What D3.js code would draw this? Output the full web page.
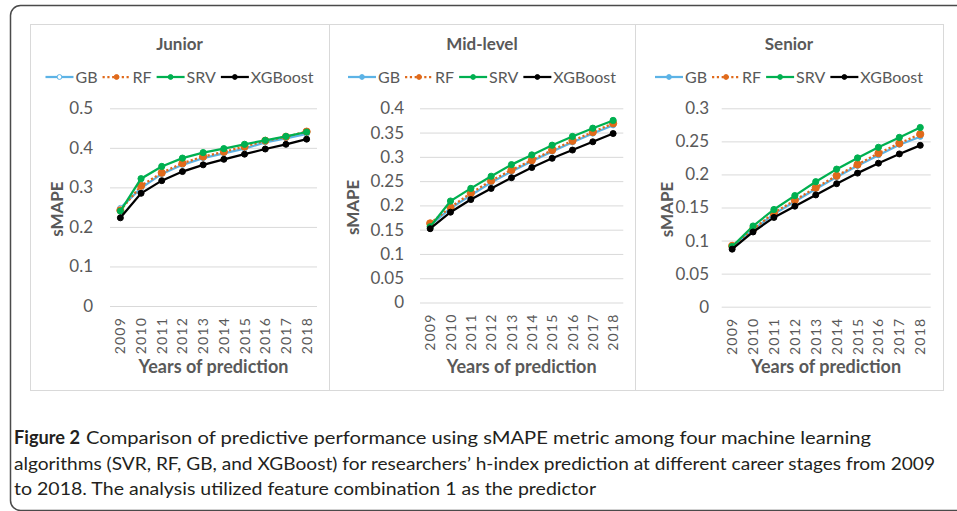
<!DOCTYPE html>
<html>
<head>
<meta charset="utf-8">
<script src="https://cdn.jsdelivr.net/npm/d3@7"></script>
<style>
  body { margin: 0; background: #fff; }
  text { font-family: Lato, "Noto Sans", sans-serif; }
</style>
</head>
<body>
<div id="chart"></div>
<script>
// sMAPE by career stage, 2009-2018

var years = ["2009", "2010", "2011", "2012", "2013", "2014", "2015", "2016", "2017", "2018"];
var seriesNames = ["GB", "RF", "SRV", "XGBoost"];
var panelTitles = ["Junior", "Mid-level", "Senior"];

var juniorGB  = [0.248, 0.298, 0.334, 0.357, 0.374, 0.386, 0.398, 0.414, 0.424, 0.435];
var juniorRF  = [0.242, 0.304, 0.337, 0.361, 0.378, 0.390, 0.403, 0.418, 0.428, 0.441];
var juniorSRV = [0.240, 0.322, 0.353, 0.374, 0.388, 0.398, 0.409, 0.419, 0.429, 0.440];
var juniorXGB = [0.223, 0.285, 0.317, 0.340, 0.357, 0.371, 0.384, 0.397, 0.409, 0.422];

var midGB  = [0.159, 0.194, 0.221, 0.247, 0.270, 0.291, 0.311, 0.330, 0.348, 0.365];
var midRF  = [0.163, 0.196, 0.225, 0.251, 0.273, 0.293, 0.314, 0.333, 0.351, 0.369];
var midSRV = [0.156, 0.209, 0.235, 0.260, 0.284, 0.304, 0.324, 0.342, 0.359, 0.375];
var midXGB = [0.152, 0.186, 0.212, 0.235, 0.257, 0.278, 0.297, 0.314, 0.331, 0.348];

var seniorGB  = [0.091, 0.116, 0.140, 0.159, 0.178, 0.196, 0.213, 0.229, 0.245, 0.257];
var seniorRF  = [0.092, 0.117, 0.142, 0.161, 0.180, 0.198, 0.215, 0.232, 0.247, 0.261];
var seniorSRV = [0.091, 0.122, 0.147, 0.168, 0.189, 0.208, 0.225, 0.241, 0.256, 0.271];
var seniorXGB = [0.087, 0.113, 0.135, 0.152, 0.169, 0.186, 0.202, 0.217, 0.231, 0.244];

var juniorTicks = [0, 0.1, 0.2, 0.3, 0.4, 0.5];
var midTicks    = [0, 0.05, 0.1, 0.15, 0.2, 0.25, 0.3, 0.35, 0.4];
var seniorTicks = [0, 0.05, 0.1, 0.15, 0.2, 0.25, 0.3];

var captionBold = "Figure 2";
var captionLines = [
  "Comparison of predictive performance using sMAPE metric among four machine learning",
  "algorithms (SVR, RF, GB, and XGBoost) for researchers\u2019 h-index prediction at different career stages from 2009",
  "to 2018. The analysis utilized feature combination 1 as the predictor"
];

// styles per series
var colors = { GB: "#5cb3e6", RF: "#e06a1b", SRV: "#00b050", XGBoost: "#000000" };
var radius = { GB: 2.6, RF: 3.6, SRV: 3.1, XGBoost: 3 };

var svgWidth = 957;
var svgHeight = 511;
var textGray = "#595959";

var svg = d3.select("#chart")
  .append("svg")
  .attr("width", svgWidth)
  .attr("height", svgHeight);

// outer figure frame
svg.append("rect")
  .attr("x", 10.5).attr("y", 5.5)
  .attr("width", 1000).attr("height", 505)
  .attr("rx", 10)
  .attr("fill", "none")
  .attr("stroke", "#4a4a4a")
  .attr("stroke-width", 1.5);

var panels = [
  { title: panelTitles[0], ticks: juniorTicks, values: [juniorGB, juniorRF, juniorSRV, juniorXGB],
    box: [30, 329], plot: { left: 110, right: 317, top: 108.3, bottom: 306 }, pad: 17, yTitleX: 57, hollowGB: true },
  { title: panelTitles[1], ticks: midTicks, values: [midGB, midRF, midSRV, midXGB],
    box: [329, 635], plot: { left: 420, right: 623.3, top: 108.3, bottom: 302.5 }, pad: 16, yTitleX: 353, hollowGB: false },
  { title: panelTitles[2], ticks: seniorTicks, values: [seniorGB, seniorRF, seniorSRV, seniorXGB],
    box: [635, 943], plot: { left: 721.7, right: 930.7, top: 108.3, bottom: 306.7 }, pad: 12.7, yTitleX: 667, hollowGB: false }
];

panels.forEach(function(p) {
  var g = svg.append("g");
  var cx = (p.box[0] + p.box[1]) / 2;

  g.append("rect")
    .attr("x", p.box[0] + 0.5).attr("y", 24.5)
    .attr("width", p.box[1] - p.box[0]).attr("height", 366)
    .attr("fill", "#fff")
    .attr("stroke", "#d9d9d9");

  var xScale = d3.scaleBand().domain(years).range([p.plot.left, p.plot.right]);
  var yScale = d3.scaleLinear()
    .domain([0, p.ticks[p.ticks.length - 1]])
    .range([p.plot.bottom, p.plot.top]);

  // gridlines + y labels
  var yAxis = d3.axisLeft(yScale)
    .tickValues(p.ticks)
    .tickSize(-(p.plot.right - p.plot.left))
    .tickPadding(p.pad)
    .tickFormat(function(d) { return String(d); });
  var yg = g.append("g")
    .attr("transform", "translate(" + p.plot.left + ",0)")
    .call(yAxis);
  yg.select(".domain").remove();
  yg.selectAll("line").attr("stroke", "#d9d9d9");
  yg.selectAll("text")
    .attr("fill", textGray)
    .attr("font-size", "17px")
    .style("font-family", "Lato, 'Noto Sans', sans-serif");

  // x labels, rotated
  var xAxis = d3.axisBottom(xScale).tickSize(0).tickPadding(0);
  var xg = g.append("g")
    .attr("transform", "translate(0," + p.plot.bottom + ")")
    .call(xAxis);
  xg.select(".domain").remove();
  xg.selectAll("text")
    .attr("transform", "rotate(-90)")
    .attr("x", -11)
    .attr("y", 0)
    .attr("dy", "0.36em")
    .attr("text-anchor", "end")
    .attr("fill", textGray)
    .attr("font-size", "14px")
    .attr("letter-spacing", "1.2px")
    .style("font-family", "Lato, 'Noto Sans', sans-serif");

  // titles
  g.append("text")
    .attr("x", cx).attr("y", 50)
    .attr("text-anchor", "middle")
    .attr("font-size", "17px").attr("font-weight", "bold")
    .attr("fill", textGray)
    .text(p.title);

  g.append("text")
    .attr("transform", "translate(" + (p.yTitleX + 6) + "," + ((p.plot.top + p.plot.bottom) / 2 + 2) + ") rotate(-90)")
    .attr("text-anchor", "middle")
    .attr("font-size", "17px").attr("font-weight", "bold")
    .attr("fill", textGray)
    .text("sMAPE");

  g.append("text")
    .attr("x", (p.plot.left + p.plot.right) / 2).attr("y", 373)
    .attr("text-anchor", "middle")
    .attr("font-size", "18px").attr("font-weight", "bold")
    .attr("fill", textGray)
    .text("Years of prediction");

  // legend, centred on the panel
  var leg = g.append("g");
  var lx = 0;
  seriesNames.forEach(function(name) {
    var item = leg.append("g").attr("transform", "translate(" + lx + ",0)");
    item.append("line")
      .attr("x1", 0).attr("x2", 28).attr("y1", 77).attr("y2", 77)
      .attr("stroke", colors[name])
      .attr("stroke-width", 2.25)
      .attr("stroke-dasharray", name === "RF" ? "2.2,2.6" : null);
    item.append("circle")
      .attr("cx", 14).attr("cy", 77).attr("r", 2.4)
      .attr("fill", (name === "GB" && p.hollowGB) ? "#fff" : colors[name])
      .attr("stroke", colors[name]).attr("stroke-width", 1);
    var t = item.append("text")
      .attr("x", 30).attr("y", 83)
      .attr("font-size", "16px")
      .attr("fill", textGray)
      .text(name);
    lx += 30 + t.node().getComputedTextLength() + 5;
  });
  leg.attr("transform", "translate(" + (cx - (lx - 5) / 2) + ",0)");

  // series
  var line = d3.line()
    .x(function(d, i) { return xScale(years[i]) + xScale.bandwidth() / 2; })
    .y(function(d) { return yScale(d); });

  p.values.forEach(function(vals, si) {
    var name = seriesNames[si];
    g.append("path")
      .datum(vals)
      .attr("d", line)
      .attr("fill", "none")
      .attr("stroke", colors[name])
      .attr("stroke-width", 2.25)
      .attr("stroke-dasharray", name === "RF" ? "2.2,2.2" : null);
    g.append("g")
      .selectAll("circle")
      .data(vals)
      .enter()
      .append("circle")
      .attr("cx", function(d, i) { return xScale(years[i]) + xScale.bandwidth() / 2; })
      .attr("cy", function(d) { return yScale(d); })
      .attr("r", radius[name])
      .attr("fill", (name === "GB" && p.hollowGB) ? "#fff" : colors[name])
      .attr("stroke", colors[name])
      .attr("stroke-width", 1);
  });
});

// caption
var cap = svg.append("g").attr("fill", "#231f20");
cap.append("text")
  .attr("x", 14).attr("y", 444)
  .attr("font-size", "18px").attr("font-weight", "bold")
  .attr("textLength", 66).attr("lengthAdjust", "spacingAndGlyphs")
  .text(captionBold);
var lineStarts = [86, 14, 14];
var lineEnds = [871, 935, 596];
captionLines.forEach(function(s, i) {
  cap.append("text")
    .attr("x", lineStarts[i]).attr("y", 444 + i * 25.5)
    .attr("font-size", "18px")
    .attr("textLength", lineEnds[i] - lineStarts[i])
    .attr("lengthAdjust", "spacingAndGlyphs")
    .text(s);
});
</script>
</body>
</html>
